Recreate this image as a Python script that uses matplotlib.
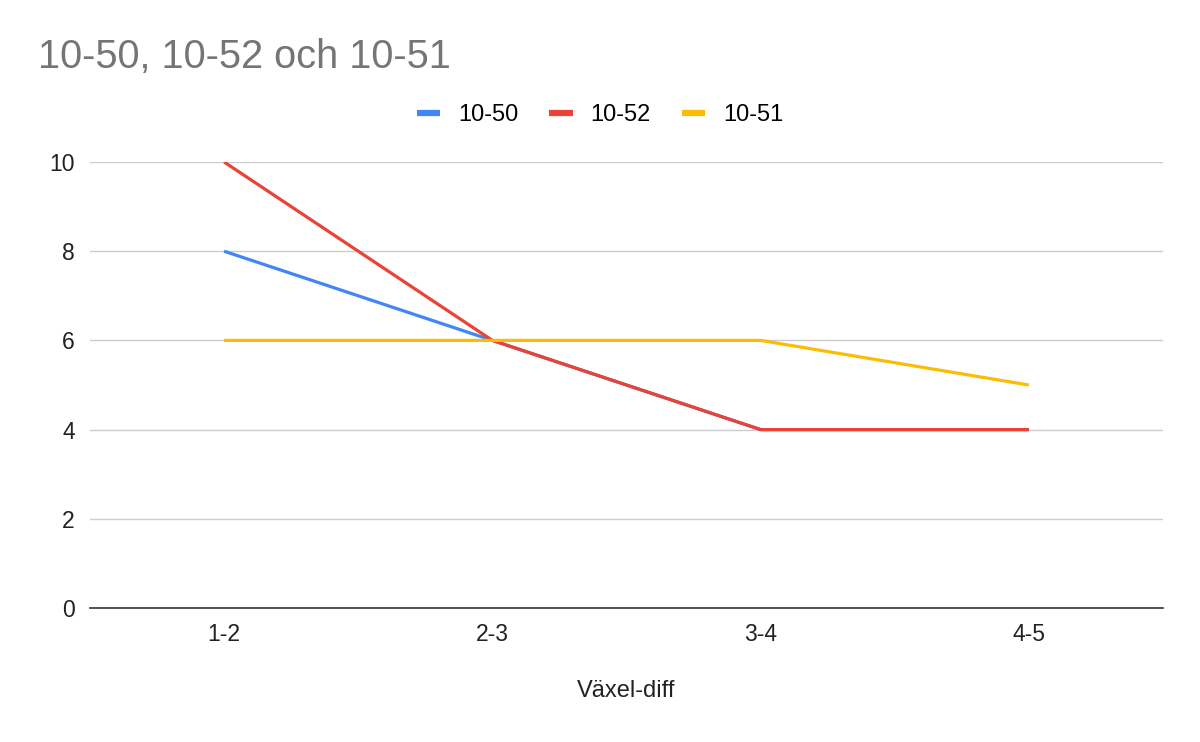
import matplotlib
matplotlib.use("Agg")
import matplotlib.pyplot as plt

plt.rcParams['font.family'] = ['Liberation Sans', 'DejaVu Sans']

categories = ["1-2", "2-3", "3-4", "4-5"]
series_names = ["10-50", "10-52", "10-51"]
s_1050 = [8, 6, 4, 4]
s_1052 = [10, 6, 4, 4]
s_1051 = [6, 6, 6, 5]
colors = ["#4285f4", "#ea4335", "#fbbc04"]
yticks = [0, 2, 4, 6, 8, 10]

fig = plt.figure(figsize=(12, 7.42), dpi=100)
ax = fig.add_axes([90/1200, 134/742, (1163-90)/1200, (608-162)/742])

x = list(range(len(categories)))
for name, vals, c in zip(series_names, [s_1050, s_1052, s_1051], colors):
    ax.plot(x, vals, color=c, lw=2.3, label=name, solid_capstyle='butt')

ax.set_xlim(-0.5, len(categories) - 0.5)
ax.set_ylim(0, 10)
ax.set_yticks(yticks)
ax.set_yticklabels([str(v) for v in yticks])
ax.set_xticks(x)
ax.set_xticklabels(categories)
ax.grid(axis='y', color='#cccccc', lw=1)
ax.set_axisbelow(True)
for s in ['top', 'right', 'left']:
    ax.spines[s].set_visible(False)
ax.spines['bottom'].set_color('#333333')
ax.spines['bottom'].set_linewidth(1.2)
ax.spines['bottom'].set_zorder(3)
ax.tick_params(axis='both', length=0, labelsize=16.5, colors='#222222')
ax.tick_params(axis='y', pad=11)
ax.tick_params(axis='x', pad=10.5)
ax.set_xlabel("Växel-diff", fontsize=17, color='#222222', labelpad=25)

fig.text(38/1200, 1 - 57/742, "10-50, 10-52 och 10-51", fontsize=28.6, color='#757575',
         va='center', ha='left')

leg = fig.legend(*ax.get_legend_handles_labels(), loc='center', bbox_to_anchor=(600/1200, 1 - 115/742),
                 ncol=3, frameon=False, fontsize=17, handlelength=1.0, handletextpad=0.76,
                 columnspacing=1.3)
for h in leg.get_lines():
    h.set_linewidth(4.5)

fig.savefig("out.png", dpi=100)
